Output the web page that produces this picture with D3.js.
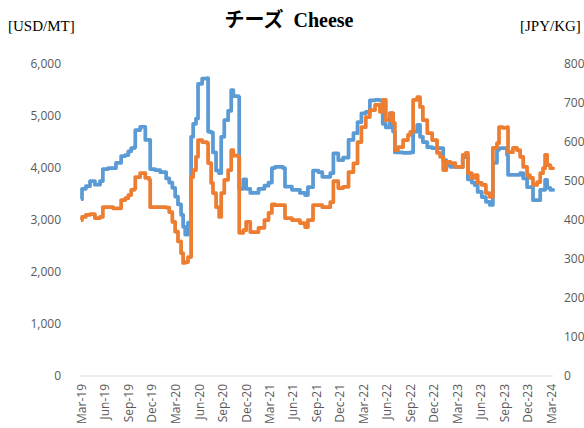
<!DOCTYPE html>
<html>
<head>
<meta charset="utf-8">
<script src="https://cdn.jsdelivr.net/npm/d3@7"></script>
<style>
    body { margin: 0; background: #fff; }
    .tick text { fill: #595959; font-family: "Open Sans", sans-serif; font-size: 12px; }
    .title { font-family: "Liberation Serif", "Noto Sans CJK JP", serif; white-space: pre; }
</style>
</head>
<body>
<div id="d3_wrapper"></div>
<script>
// dates of the price points
const dates = [
    "2019-03-01", "2019-03-05", "2019-03-20", "2019-04-05", "2019-04-24", "2019-05-14", "2019-05-25", "2019-06-14",
    "2019-07-04", "2019-07-15", "2019-08-04", "2019-08-20", "2019-09-01", "2019-09-12", "2019-09-24", "2019-09-28",
    "2019-10-17", "2019-11-02", "2019-11-06", "2019-11-21", "2019-11-25", "2019-12-14", "2020-01-03", "2020-01-26",
    "2020-02-07", "2020-02-19", "2020-03-01", "2020-03-12", "2020-03-24", "2020-04-01", "2020-04-09", "2020-04-20",
    "2020-04-28", "2020-05-02", "2020-05-10", "2020-05-21", "2020-05-29", "2020-06-14", "2020-07-03", "2020-07-07",
    "2020-07-19", "2020-07-26", "2020-08-07", "2020-08-19", "2020-08-27", "2020-09-08", "2020-09-23", "2020-10-05",
    "2020-10-13", "2020-11-02", "2020-11-05", "2020-11-21", "2020-12-02", "2020-12-18", "2021-01-07", "2021-01-19",
    "2021-02-11", "2021-02-27", "2021-03-12", "2021-03-24", "2021-04-24", "2021-05-02", "2021-05-29", "2021-06-29",
    "2021-07-19", "2021-07-30", "2021-08-19", "2021-09-09", "2021-09-24", "2021-10-25", "2021-11-06", "2021-11-25",
    "2021-12-14", "2022-01-04", "2022-01-23", "2022-02-08", "2022-02-23", "2022-03-12", "2022-03-28", "2022-04-17",
    "2022-05-06", "2022-05-17", "2022-05-29", "2022-06-14", "2022-06-26", "2022-07-03", "2022-07-15", "2022-08-04",
    "2022-08-23", "2022-09-01", "2022-09-12", "2022-09-28", "2022-10-09", "2022-10-20", "2022-11-06", "2022-11-25",
    "2022-12-14", "2022-12-26", "2023-01-07", "2023-01-19", "2023-02-04", "2023-02-23", "2023-03-12", "2023-03-24",
    "2023-04-05", "2023-04-13", "2023-04-28", "2023-05-10", "2023-05-21", "2023-06-06", "2023-06-22", "2023-07-07",
    "2023-07-15", "2023-07-19", "2023-08-04", "2023-08-12", "2023-08-27", "2023-09-12", "2023-09-16", "2023-10-05",
    "2023-10-21", "2023-11-02", "2023-11-14", "2023-11-29", "2023-12-10", "2023-12-22", "2024-01-07", "2024-01-19",
    "2024-01-30", "2024-02-07", "2024-02-15", "2024-02-27", "2024-03-09"
]

// USD/MT (left axis)
const usd = [
    3400, 3600, 3650, 3750, 3680, 3750, 3980, 4000,
    4000, 4100, 4230, 4250, 4320, 4380, 4400, 4730,
    4790, 4790, 4540, 4540, 3980, 3960, 3920, 3800,
    3720, 3620, 3450, 3300, 3100, 2870, 2720, 2950,
    2950, 4600, 4850, 4950, 5620, 5720, 5730, 4700,
    4680, 4300, 3950, 3900, 4600, 4920, 5100, 5500,
    5380, 5370, 3600, 3780, 3600, 3520, 3520, 3600,
    3660, 3720, 4000, 4020, 4000, 3640, 3580, 3520,
    3480, 3630, 3950, 3920, 3830, 3900, 4280, 4150,
    4200, 4540, 4670, 4880, 5050, 5080, 5300, 5310,
    5300, 4850, 4780, 5050, 4700, 4300, 4300, 4290,
    4290, 4300, 4700, 4830, 4600, 4500, 4400, 4380,
    4380, 4380, 4150, 4050, 4020, 4020, 4020, 4210,
    4210, 3780, 3720, 3670, 3540, 3440, 3350, 3290,
    3290, 4100, 4350, 4380, 4380, 4250, 3870, 3870,
    3870, 3900, 3800, 3630, 3630, 3380, 3380, 3580,
    3580, 3770, 3620, 3580, 3550
]

// JPY/KG (right axis)
const jpy = [
    400, 408, 413, 415, 405, 408, 433, 433,
    430, 430, 451, 456, 464, 477, 480, 510,
    520, 520, 508, 503, 433, 433, 433, 432,
    420, 395, 370, 345, 315, 290, 292, 305,
    305, 510, 528, 562, 605, 600, 597, 546,
    495, 469, 433, 408, 469, 503, 528, 579,
    565, 562, 367, 374, 395, 369, 369, 380,
    400, 418, 440, 438, 438, 405, 400, 392,
    382, 400, 438, 438, 433, 446, 500, 482,
    485, 523, 545, 600, 638, 664, 682, 695,
    677, 708, 656, 674, 649, 579, 587, 605,
    618, 626, 708, 715, 690, 656, 623, 605,
    572, 562, 528, 549, 546, 536, 536, 567,
    572, 520, 508, 515, 495, 490, 469, 459,
    459, 585, 597, 638, 636, 638, 574, 585,
    579, 562, 536, 515, 508, 490, 497, 520,
    533, 567, 541, 533, 536
]

// x axis labels
const tickLabels = [
    "Mar-19", "Jun-19", "Sep-19", "Dec-19", "Mar-20", "Jun-20", "Sep-20", "Dec-20",
    "Mar-21", "Jun-21", "Sep-21", "Dec-21", "Mar-22", "Jun-22", "Sep-22", "Dec-22",
    "Mar-23", "Jun-23", "Sep-23", "Dec-23", "Mar-24"
]

const usdTicks = [0, 1000, 2000, 3000, 4000, 5000, 6000]
const jpyTicks = [0, 100, 200, 300, 400, 500, 600, 700, 800]

function drawGraphic() {
    const parseDate = d3.timeParse("%Y-%m-%d"),
        parseTick = d3.timeParse("%b-%y"),
        fmtTick = d3.timeFormat("%b-%y")

    const rows = dates.map((d, i) => ({ date: parseDate(d), usd: usd[i], jpy: jpy[i] }))
    const ticks = tickLabels.map(parseTick)

    const width = 584, height = 428,
        margin = { top: 64, right: 33, bottom: 52, left: 81 }

    const svg = d3.select("#d3_wrapper").append("svg")
        .attr("width", width)
        .attr("height", height)

    const x = d3.scaleTime()
        .domain([ticks[0], ticks[ticks.length - 1]])
        .range([margin.left, width - margin.right])
    const yL = d3.scaleLinear().domain([0, 6000]).range([height - margin.bottom, margin.top])
    const yR = d3.scaleLinear().domain([0, 800]).range([height - margin.bottom, margin.top])

    // eixo X
    const xAxis = svg.append("g")
        .attr("transform", "translate(0," + (height - margin.bottom) + ")")
        .call(d3.axisBottom(x).tickValues(ticks).tickFormat(fmtTick).tickSize(0).tickSizeOuter(0))
    xAxis.select(".domain").attr("stroke", "#d9d9d9").attr("stroke-width", 1)
        .attr("d", "M" + (margin.left - 1) + ",0H" + (width - margin.right + 2))
    xAxis.selectAll(".tick text")
        .attr("transform", "rotate(-90)")
        .attr("text-anchor", "end")
        .attr("x", -8)
        .attr("y", 0)
        .attr("dy", "0.35em")

    // eixo Y esquerdo
    svg.append("g")
        .attr("transform", "translate(" + (margin.left - 17) + ",0)")
        .call(d3.axisLeft(yL).tickValues(usdTicks).tickFormat(d3.format(",")).tickSize(0))
        .call(g => g.select(".domain").remove())

    // eixo Y direito
    svg.append("g")
        .attr("transform", "translate(" + (width - margin.right + 10) + ",0)")
        .call(d3.axisRight(yR).tickValues(jpyTicks).tickSize(0))
        .call(g => g.select(".domain").remove())

    // linhas (degraus, como os leilões)
    const lineUsd = d3.line().curve(d3.curveStepAfter).x(d => x(d.date)).y(d => yL(d.usd))
    const lineJpy = d3.line().curve(d3.curveStepAfter).x(d => x(d.date)).y(d => yR(d.jpy))

    svg.append("path").datum(rows)
        .attr("fill", "none").attr("stroke", "#5b9bd5").attr("stroke-width", 3.75)
        .attr("stroke-linejoin", "round").attr("d", lineUsd)
    svg.append("path").datum(rows)
        .attr("fill", "none").attr("stroke", "#ed7d31").attr("stroke-width", 3.75)
        .attr("stroke-linejoin", "round").attr("d", lineJpy)

    // títulos
    svg.append("text").attr("class", "title")
        .attr("x", 289).attr("y", 27)
        .attr("text-anchor", "middle")
        .attr("font-size", 20).attr("font-weight", "bold")
        .text("チーズ  Cheese")
    svg.append("text").attr("class", "title")
        .attr("x", 8).attr("y", 31)
        .attr("font-size", 15)
        .text("[USD/MT]")
    svg.append("text").attr("class", "title")
        .attr("x", 520).attr("y", 31)
        .attr("font-size", 15)
        .text("[JPY/KG]")
}

window.addEventListener("load", drawGraphic)
</script>
</body>
</html>
